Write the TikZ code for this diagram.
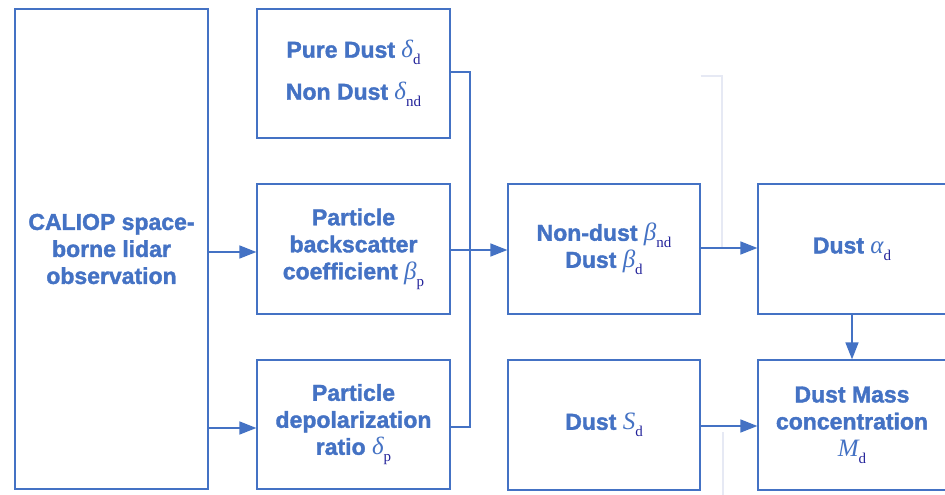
\documentclass[tikz,border=0pt]{standalone}
\usepackage{fontspec}
\setmainfont{Liberation Sans}[BoldFeatures={FakeBold=1.6}]
\newfontfamily\tnr{Liberation Serif}
\usetikzlibrary{arrows.meta}
\definecolor{mblue}{HTML}{4472C4}
\definecolor{subc}{HTML}{22229A}
\definecolor{faintc}{HTML}{E6E9F4}
\newcommand\qsym[2]{{\tnr\mdseries\itshape\fontsize{25}{27}\selectfont #1}\raisebox{-0.3em}{\tnr\mdseries\upshape\fontsize{15}{15}\selectfont\color{subc}#2}}
\begin{document}
\begin{tikzpicture}[x=1pt,y=-1pt,
  box/.style={draw=mblue,line width=1.3pt,text=mblue,align=center,
    font=\fontsize{23}{27}\selectfont\bfseries,inner sep=0pt},
  conn/.style={draw=mblue,line width=1.6pt},
  arr/.style={conn,-{Triangle[length=17pt,width=13pt]}},
  faint/.style={draw=faintc,line width=1.2pt}]
\useasboundingbox (0,0) rectangle (945,495);
\clip (0,0) rectangle (945,495);
\fill[white] (0,0) rectangle (945,495);
\node[box,minimum width=193pt,minimum height=480pt] (A) at (111.5,249) {CALIOP space-\\borne lidar\\observation};
\node[box,minimum width=193pt,minimum height=129pt] (B1) at (353.5,73.5) {Pure Dust \qsym{δ}{d}\\[15pt]Non Dust \qsym{δ}{nd}};
\node[box,minimum width=193pt,minimum height=130pt] (B2) at (353.5,249) {Particle\\backscatter\\coefficient \qsym{β}{p}};
\node[box,minimum width=193pt,minimum height=129pt] (B3) at (353.5,424.5) {Particle\\depolarization\\ratio \qsym{δ}{p}};
\node[box,minimum width=192pt,minimum height=130pt] (C1) at (604,249) {Non-dust \qsym{β}{nd}\\Dust \qsym{β}{d}};
\node[box,minimum width=192pt,minimum height=130pt] (C2) at (604,425) {Dust \qsym{S}{d}};
\node[box,minimum width=188pt,minimum height=130pt] (D1) at (852,249) {Dust \qsym{α}{d}};
\node[box,minimum width=188pt,minimum height=130pt] (D2) at (852,425) {Dust Mass\\concentration\\\qsym{M}{d}};
% faint guide lines
\draw[faint] (C1.east |- 0,76) -- (722,76) -- (722,248);
\draw[faint] (723,432) -- (723,495);
% connectors
\draw[arr] (A.east |- 0,252) -- (B2.west |- 0,252);
\draw[arr] (A.east |- 0,428) -- (B3.west |- 0,428);
\draw[conn] (B1.east |- 0,72) -- (470,72) -- (470,427) -- (B3.east |- 0,427);
\draw[arr] (B2.east |- 0,250) -- (C1.west |- 0,250);
\draw[arr] (C1.east |- 0,248) -- (D1.west |- 0,248);
\draw[arr] (C2.east |- 0,426) -- (D2.west |- 0,426);
\draw[arr] (D1.south) -- (D2.north);
\end{tikzpicture}
\end{document}
